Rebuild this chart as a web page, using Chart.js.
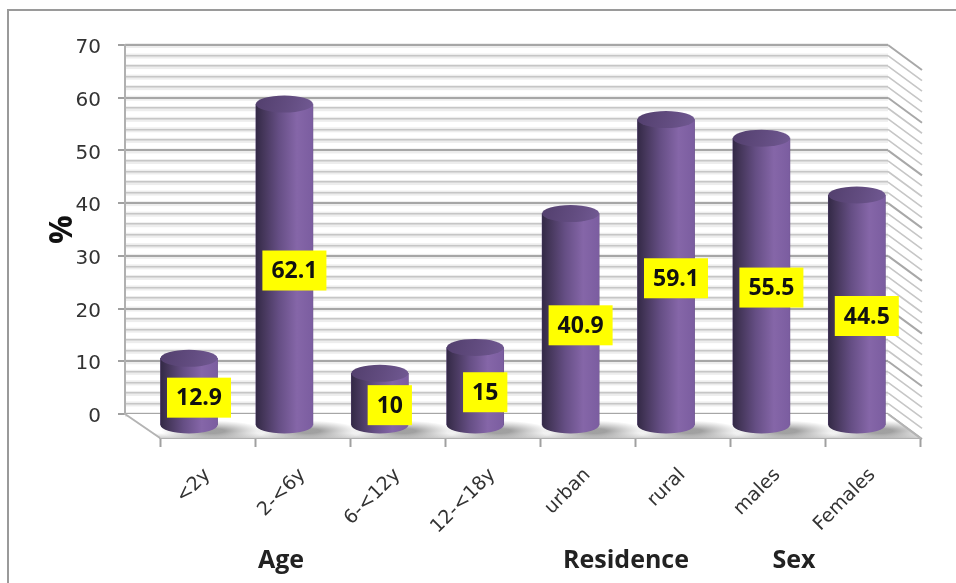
<!DOCTYPE html>
<html>
<head>
<meta charset="utf-8">
<title>Prevalence by age, residence and sex</title>
<script src="https://cdn.jsdelivr.net/npm/chart.js@4"></script>
<style>
  html, body { margin: 0; padding: 0; background: #fff; overflow: hidden; }
  canvas { display: block; }
</style>
</head>
<body>
<canvas id="chart" width="956" height="583"></canvas>
<script>
// Chart values
const categories = ['<2y', '2-<6y', '6-<12y', '12-<18y', 'urban', 'rural', 'males', 'Females'];
const percentages = [12.9, 62.1, 10, 15, 40.9, 59.1, 55.5, 44.5];
const groupLabels = ['Age', 'Residence', 'Sex'];
const axisTitle = '%';

// 3D box geometry of the plot
const WALL = { left: 125, right: 888, top: 45, bottom: 414 };
const DEPTH = { x: 34, y: 25 };
const CYL = { width: 57, ry: 8.5 };
const GROUP_CENTERS = [281, 626, 794];
const GROUP_Y = 561;

const sideGradient = (ctx, left, right) => {
  const g = ctx.createLinearGradient(left, 0, right, 0);
  g.addColorStop(0, '#332946');
  g.addColorStop(0.12, '#433558');
  g.addColorStop(0.4, '#654e84');
  g.addColorStop(0.72, '#8566a8');
  g.addColorStop(1, '#7b5da0');
  return g;
};

// Moves every axis onto the 3D box once Chart.js has finished its layout
const boxLayout = {
  id: 'boxLayout',
  afterLayout(chart) {
    const { x, y, xBars, yBars } = chart.scales;
    const place = (s, left, right, top, bottom) => {
      s.left = left; s.right = right; s.top = top; s.bottom = bottom;
      s.width = right - left; s.height = bottom - top;
      s.configure();
    };
    chart.chartArea = {
      left: WALL.left, right: WALL.right, top: WALL.top, bottom: WALL.bottom,
      width: WALL.right - WALL.left, height: WALL.bottom - WALL.top
    };
    place(y, 44, WALL.left, WALL.top, WALL.bottom);
    place(x, WALL.left + 35, WALL.right + 32, 438, 560);
    place(xBars, 141.3, 904.5, 0, 0);
    place(yBars, 0, 0, 63.2, 425);
  }
};

// Frame, side wall, floor and cylinder shadows
const boxBackdrop = {
  id: 'boxBackdrop',
  beforeDraw(chart) {
    const { ctx } = chart;
    const { y } = chart.scales;
    ctx.save();
    ctx.strokeStyle = '#9a9a9a';
    ctx.lineWidth = 2;
    ctx.strokeRect(8, 10, 1100, 1100);

    // soft halo around the wall lines
    y.ticks.forEach(t => {
      const py = y.getPixelForValue(t.value);
      ctx.fillStyle = '#ededed';
      ctx.fillRect(WALL.left, py - 2, WALL.right - WALL.left, 5);
    });

    // side wall
    y.ticks.forEach(t => {
      const py = y.getPixelForValue(t.value);
      const major = t.value % 10 === 0;
      ctx.strokeStyle = major ? '#a8a8a8' : '#c6c6c6';
      ctx.lineWidth = major ? 2 : 1.6;
      ctx.beginPath();
      ctx.moveTo(WALL.right, py);
      ctx.lineTo(WALL.right + DEPTH.x, py + DEPTH.y);
      ctx.stroke();
    });
    ctx.restore();
  },
  beforeDatasetsDraw(chart) {
    const { ctx } = chart;
    const meta = chart.getDatasetMeta(0);
    const fb = 438;
    ctx.save();
    // floor
    ctx.beginPath();
    ctx.moveTo(WALL.left, WALL.bottom);
    ctx.lineTo(WALL.right, WALL.bottom);
    ctx.lineTo(WALL.right + DEPTH.x - 2, fb);
    ctx.lineTo(WALL.left + DEPTH.x + 1, fb);
    ctx.closePath();
    ctx.fillStyle = '#ffffff';
    ctx.fill();
    ctx.clip();
    const band = ctx.createLinearGradient(0, fb - 5, 0, fb);
    band.addColorStop(0, 'rgba(210,210,210,0)');
    band.addColorStop(1, 'rgba(200,200,200,0.9)');
    ctx.fillStyle = band;
    ctx.fillRect(WALL.left, fb - 5, 900, 5);
    // contact shadows
    meta.data.forEach(bar => {
      ctx.save();
      ctx.translate(bar.x + 24, 431);
      ctx.scale(1, 0.2);
      const g = ctx.createRadialGradient(0, 0, 12, 0, 0, 52);
      g.addColorStop(0, 'rgba(110,110,110,0.65)');
      g.addColorStop(1, 'rgba(140,140,140,0)');
      ctx.fillStyle = g;
      ctx.beginPath();
      ctx.arc(0, 0, 52, 0, Math.PI * 2);
      ctx.fill();
      ctx.restore();
    });
    ctx.restore();
    // floor edges
    ctx.save();
    ctx.strokeStyle = '#b4b4b4';
    ctx.lineWidth = 2;
    ctx.beginPath();
    ctx.moveTo(WALL.left, WALL.bottom);
    ctx.lineTo(WALL.left + DEPTH.x + 1, fb);
    ctx.moveTo(WALL.right, WALL.bottom);
    ctx.lineTo(WALL.right + DEPTH.x - 2, fb);
    ctx.stroke();
    ctx.restore();
  }
};

// Cylinder sides, caps, value boxes and the group captions
const cylinderCaps = {
  id: 'cylinderCaps',
  afterDatasetsDraw(chart) {
    const { ctx } = chart;
    const meta = chart.getDatasetMeta(0);
    const rx = CYL.width / 2;
    ctx.save();
    meta.data.forEach(bar => {
      const left = bar.x - rx, right = bar.x + rx;
      // shaded side with rounded bottom
      ctx.fillStyle = sideGradient(ctx, left, right);
      ctx.beginPath();
      ctx.rect(left, bar.y, CYL.width, bar.base - bar.y);
      ctx.ellipse(bar.x, bar.base, rx, CYL.ry, 0, 0, Math.PI);
      ctx.fill();
      // top face
      const cap = ctx.createLinearGradient(left, bar.y - CYL.ry, right, bar.y + CYL.ry);
      cap.addColorStop(0, '#523f6d');
      cap.addColorStop(0.55, '#624c80');
      cap.addColorStop(1, '#715993');
      ctx.fillStyle = cap;
      ctx.beginPath();
      ctx.ellipse(bar.x, bar.y, rx, CYL.ry, 0, 0, Math.PI * 2);
      ctx.fill();
    });

    // value boxes
    ctx.font = 'bold 23px "Open Sans"';
    ctx.textAlign = 'center';
    ctx.textBaseline = 'middle';
    meta.data.forEach((bar, i) => {
      const text = String(percentages[i]);
      const w = ctx.measureText(text).width + 18;
      const h = 40;
      const cx = bar.x + 10;
      const cy = (bar.y + bar.base) / 2 + 6;
      ctx.fillStyle = '#ffff00';
      ctx.fillRect(cx - w / 2, cy - h / 2, w, h);
      ctx.fillStyle = '#111111';
      ctx.fillText(text, cx, cy + 1);
    });

    // group captions
    ctx.font = 'bold 25px "Open Sans"';
    ctx.fillStyle = '#222222';
    groupLabels.forEach((label, i) => ctx.fillText(label, GROUP_CENTERS[i], GROUP_Y));
    ctx.restore();
  }
};

new Chart(document.getElementById('chart'), {
  type: 'bar',
  data: {
    labels: categories,
    datasets: [{
      data: percentages,
      xAxisID: 'xBars',
      yAxisID: 'yBars',
      clip: false,
      barThickness: CYL.width,
      borderWidth: 0,
      backgroundColor: '#624c80'
    }]
  },
  plugins: [boxLayout, boxBackdrop, cylinderCaps],
  options: {
    responsive: false,
    animation: false,
    events: [],
    plugins: { legend: { display: false }, tooltip: { enabled: false } },
    scales: {
      x: {
        type: 'category',
        position: 'bottom',
        labels: categories,
        offset: true,
        grid: {
          offset: true,
          drawOnChartArea: false,
          tickLength: 9,
          tickColor: '#a0a0a0',
          tickWidth: 2
        },
        border: { display: true, color: '#b0b0b0', width: 2 },
        ticks: {
          autoSkip: false,
          minRotation: 45,
          maxRotation: 45,
          padding: 17,
          color: '#333333',
          font: { family: '"DejaVu Sans"', size: 19 }
        }
      },
      y: {
        type: 'linear',
        position: 'left',
        min: 0,
        max: 70,
        title: {
          display: true,
          text: axisTitle,
          color: '#111111',
          font: { family: '"Open Sans"', size: 32, weight: 'bold' },
          padding: 0
        },
        grid: {
          color: c => (c.tick.value % 10 === 0 ? '#a6a6a6' : '#c6c6c6'),
          tickColor: c => (c.tick.value % 10 === 0 ? '#a0a0a0' : 'rgba(0,0,0,0)'),
          lineWidth: c => (c.tick.value % 10 === 0 ? 2 : 1.6),
          tickLength: 7
        },
        border: { display: true, color: '#b0b0b0', width: 2 },
        ticks: {
          stepSize: 2,
          autoSkip: false,
          padding: 17,
          labelOffset: 3,
          color: '#333333',
          font: { family: '"DejaVu Sans"', size: 20 },
          callback: v => (v % 10 === 0 ? String(v) : '')
        }
      },
      xBars: { type: 'category', display: false, offset: true, labels: categories, position: 'bottom' },
      yBars: { type: 'linear', display: false, min: 0, max: 70, position: 'left' }
    }
  }
});
</script>
</body>
</html>
